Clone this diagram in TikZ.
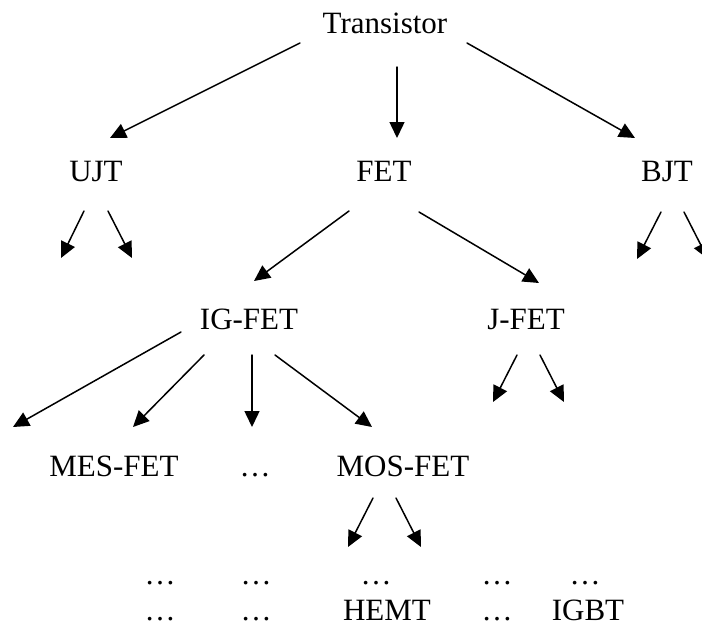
\documentclass[tikz,border=0pt]{standalone}
\usepackage{fontspec}
\setmainfont{Liberation Serif}
\usetikzlibrary{arrows.meta}

\begin{document}
\begin{tikzpicture}[x=1pt, y=-1pt, line cap=round, line join=round,
  lbl/.style={font=\fontsize{31}{37}\selectfont, inner sep=0pt, anchor=base},
  arr/.style={line width=1.5pt, -{Triangle[length=16pt,width=15pt]}}]
\useasboundingbox (0,0) rectangle (702,627);

\node[lbl] (trans) at (385,33) {Transistor};
\node[lbl] (ujt) at (96,181) {UJT};
\node[lbl] (fet) at (384,181) {FET};
\node[lbl] (bjt) at (667,181) {BJT};
\node[lbl] (igfet) at (249,329) {IG-FET};
\node[lbl] (jfet) at (526,329) {J-FET};
\node[lbl] (mesfet) at (114,476) {MES-FET};
\node[lbl] (igdots) at (255,476) {…};
\node[lbl] (mosfet) at (403,476) {MOS-FET};

\node[lbl] (rowa1) at (160,584) {…};
\node[lbl] (rowa2) at (256,584) {…};
\node[lbl] (rowa3) at (376,584) {…};
\node[lbl] (rowa4) at (497,584) {…};
\node[lbl] (rowa5) at (585,584) {…};
\node[lbl] (rowb1) at (160,620) {…};
\node[lbl] (rowb2) at (256,620) {…};
\node[lbl] (hemt) at (387,620) {HEMT};
\node[lbl] (rowb4) at (497,620) {…};
\node[lbl] (igbt) at (588,620) {IGBT};

% first level
\draw[arr] ([shift={(-85,10)}]trans.base) -- ([shift={(14,-43)}]ujt.base);
\draw[arr] ([shift={(12,34)}]trans.base) -- ([shift={(13,-43)}]fet.base);
\draw[arr] ([shift={(82,10)}]trans.base) -- ([shift={(-32,-43)}]bjt.base);

\draw[arr] ([shift={(-12,30)}]ujt.base) -- ([shift={(-35,77)}]ujt.base);
\draw[arr] ([shift={(12,30)}]ujt.base) -- ([shift={(36,77)}]ujt.base);
\draw[arr] ([shift={(-6,31)}]bjt.base) -- ([shift={(-30,78)}]bjt.base);
\draw[arr] ([shift={(17,31)}]bjt.base) -- ([shift={(41,78)}]bjt.base);

% FET branch
\draw[arr] ([shift={(-35,30)}]fet.base) -- ([shift={(5,-48)}]igfet.base);
\draw[arr] ([shift={(35,31)}]fet.base) -- ([shift={(13,-46)}]jfet.base);

\draw[arr] ([shift={(-68,3)}]igfet.base) -- ([shift={(-236,98)}]igfet.base);
\draw[arr] ([shift={(-45,26)}]igfet.base) -- ([shift={(19,-49)}]mesfet.base);
\draw[arr] ([shift={(3,26)}]igfet.base) -- ([shift={(-3,-49)}]igdots.base);
\draw[arr] ([shift={(26,26)}]igfet.base) -- ([shift={(-31,-49)}]mosfet.base);

\draw[arr] ([shift={(-9,26)}]jfet.base) -- ([shift={(-33,73)}]jfet.base);
\draw[arr] ([shift={(14,26)}]jfet.base) -- ([shift={(38,73)}]jfet.base);

\draw[arr] ([shift={(-30,22)}]mosfet.base) -- ([shift={(-55,71)}]mosfet.base);
\draw[arr] ([shift={(-7,22)}]mosfet.base) -- ([shift={(18,71)}]mosfet.base);
\end{tikzpicture}
\end{document}
